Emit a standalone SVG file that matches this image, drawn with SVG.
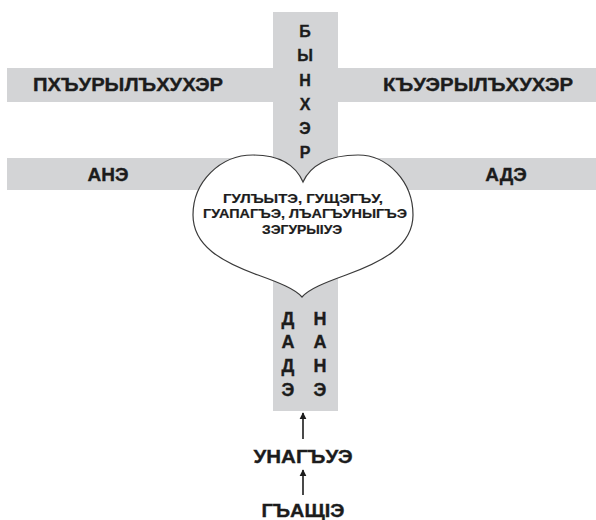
<svg xmlns="http://www.w3.org/2000/svg" width="596" height="520" viewBox="0 0 596 520">
<defs>
<style>
.bar{fill:#d3d4d6}
.t{font-family:"Liberation Sans",Arial,sans-serif;font-weight:bold;fill:#1c1c1c;stroke:#1c1c1c;stroke-width:0.35;text-anchor:middle}
.lbl{font-size:19px}
.vl{font-size:16px}
.vd{font-size:18px}
.ht{font-size:13px;stroke-width:0.2}
.heart{fill:#ffffff;stroke:#3a3a3a;stroke-width:1.2}
.conn{stroke:#1c1c1c;stroke-width:1.6;fill:none}
</style>
<marker id="ah" viewBox="0 0 10 10" refX="9" refY="5" markerWidth="7" markerHeight="8" markerUnits="userSpaceOnUse" orient="auto">
<path d="M0,0 L10,5 L0,10 Z" fill="#1c1c1c"/>
</marker>
</defs>
<rect width="596" height="520" fill="#ffffff"/>
<g id="vertical-bar">
<rect class="bar" x="273" y="12" width="65" height="399"/>
</g>
<g id="grandchildren-bar">
<rect class="bar" x="7" y="68" width="589" height="34"/>
<text class="t lbl" x="128" y="91" textLength="190" lengthAdjust="spacingAndGlyphs">ПХЪУРЫЛЪХУХЭР</text>
<text class="t lbl" x="478" y="91" textLength="190" lengthAdjust="spacingAndGlyphs">КЪУЭРЫЛЪХУХЭР</text>
</g>
<g id="parents-bar">
<rect class="bar" x="7" y="158" width="589" height="32"/>
<text class="t lbl" x="108" y="181">АНЭ</text>
<text class="t lbl" x="506" y="181">АДЭ</text>
</g>
<g id="children">
<text class="t vl" x="305" y="37">Б</text>
<text class="t vl" x="305" y="61">Ы</text>
<text class="t vl" x="305" y="86">Н</text>
<text class="t vl" x="305" y="110">Х</text>
<text class="t vl" x="305" y="134">Э</text>
<text class="t vl" x="305" y="158">Р</text>
</g>
<g id="heart">
<path class="heart" d="M303,182 C296,166 281,155 253,155 C220,155 193,182 193,215 C193,246 222,262 258,275 C280,283 295,289 302,297 C309,289 324,283 346,275 C382,262 413,246 413,215 C413,182 388,155 358,155 C328,155 310,166 303,182 Z"/>
<text class="t ht" x="303" y="203" textLength="160" lengthAdjust="spacingAndGlyphs">ГУЛЪЫТЭ, ГУЩЭГЪУ,</text>
<text class="t ht" x="305" y="218" textLength="204" lengthAdjust="spacingAndGlyphs">ГУАПАГЪЭ, ЛЪАГЪУНЫГЪЭ</text>
<text class="t ht" x="302" y="234" textLength="80" lengthAdjust="spacingAndGlyphs">ЗЭГУРЫIУЭ</text>
</g>
<g id="grandparents">
<text class="t vd" x="288" y="325">Д</text>
<text class="t vd" x="288" y="348">А</text>
<text class="t vd" x="288" y="372">Д</text>
<text class="t vd" x="288" y="396">Э</text>
<text class="t vd" x="320" y="325">Н</text>
<text class="t vd" x="320" y="348">А</text>
<text class="t vd" x="320" y="372">Н</text>
<text class="t vd" x="320" y="396">Э</text>
</g>
<g id="family">
<text class="t lbl" x="303" y="463" textLength="99" lengthAdjust="spacingAndGlyphs">УНАГЪУЭ</text>
</g>
<g id="life">
<text class="t lbl" x="303" y="517" textLength="83" lengthAdjust="spacingAndGlyphs">ГЪАЩIЭ</text>
</g>
<g id="connectors">
<line class="conn" x1="303" y1="439" x2="303" y2="413" marker-end="url(#ah)"/>
<line class="conn" x1="303" y1="495" x2="303" y2="470" marker-end="url(#ah)"/>
</g>
</svg>
